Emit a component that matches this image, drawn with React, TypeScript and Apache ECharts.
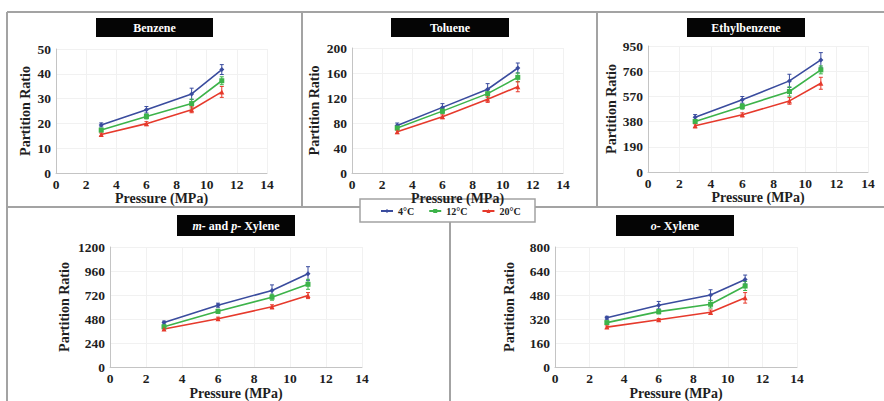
import React, { useEffect, useRef } from "react";
import * as echarts from "echarts";

// ---- data ----
const pressures = [3, 6, 9, 11];
const tempNames = ["4°C", "12°C", "20°C"];
const xTicks = [0, 2, 4, 6, 8, 10, 12, 14];

const panelTitles = ["Benzene", "Toluene", "Ethylbenzene", "{i|m-} and {i|p-} Xylene", "{i|o-} Xylene"];

const benzene4 = [19.4, 25.5, 31.9, 41.7];
const benzene12 = [17.3, 22.8, 28.0, 37.2];
const benzene20 = [15.5, 19.9, 25.5, 32.7];
const benzeneErr4 = [0.8, 1.3, 2.3, 2.0];
const benzeneErr12 = [0.7, 1.0, 1.8, 1.6];
const benzeneErr20 = [0.6, 0.8, 1.2, 2.2];

const toluene4 = [76, 105, 134, 168];
const toluene12 = [72, 99, 127, 153];
const toluene20 = [66, 90, 118, 138];
const tolueneErr4 = [4, 6, 9, 8];
const tolueneErr12 = [3, 4, 6, 7];
const tolueneErr20 = [3, 3, 5, 8];

const ethyl4 = [413, 544, 687, 845];
const ethyl12 = [381, 494, 607, 770];
const ethyl20 = [348, 431, 536, 669];
const ethylErr4 = [20, 25, 50, 55];
const ethylErr12 = [15, 20, 35, 30];
const ethylErr20 = [15, 15, 25, 45];

const mpXylene4 = [444, 618, 766, 933];
const mpXylene12 = [402, 557, 698, 827];
const mpXylene20 = [380, 483, 602, 714];
const mpXyleneErr4 = [15, 20, 55, 70];
const mpXyleneErr12 = [15, 20, 30, 50];
const mpXyleneErr20 = [12, 15, 20, 30];

const oXylene4 = [328, 412, 480, 583];
const oXylene12 = [296, 369, 418, 540];
const oXylene20 = [266, 315, 365, 461];
const oXyleneErr4 = [10, 25, 35, 30];
const oXyleneErr12 = [10, 15, 25, 30];
const oXyleneErr20 = [8, 8, 15, 35];

const yMax = [50, 200, 950, 1200, 800];
const yInterval = [10, 40, 190, 240, 160];

const panelValues = [
  [benzene4, benzene12, benzene20],
  [toluene4, toluene12, toluene20],
  [ethyl4, ethyl12, ethyl20],
  [mpXylene4, mpXylene12, mpXylene20],
  [oXylene4, oXylene12, oXylene20],
];
const panelErrors = [
  [benzeneErr4, benzeneErr12, benzeneErr20],
  [tolueneErr4, tolueneErr12, tolueneErr20],
  [ethylErr4, ethylErr12, ethylErr20],
  [mpXyleneErr4, mpXyleneErr12, mpXyleneErr20],
  [oXyleneErr4, oXyleneErr12, oXyleneErr20],
];

// ---- layout / style ----
const colors = ["#3a4c9e", "#3db34a", "#e63a2c"];
const symbols = ["diamond", "rect", "triangle"];
const FONT = "Liberation Serif";

const grids = [
  { left: 56, top: 49, width: 211, height: 124 },
  { left: 352, top: 48, width: 211, height: 125 },
  { left: 648, top: 46, width: 220, height: 126 },
  { left: 110, top: 247, width: 252, height: 125 },
  { left: 555, top: 247, width: 242, height: 125 },
];
const xNameGaps = [18.5, 18, 18.5, 19, 19];
const yNameGaps = [24, 31, 30, 39, 39];
const titleBoxes = [
  { x: 96, y: 18, w: 117, h: 19 },
  { x: 391, y: 18, w: 118, h: 19 },
  { x: 687, y: 18, w: 118, h: 19 },
  { x: 177, y: 215, w: 118, h: 21 },
  { x: 616, y: 215, w: 118, h: 21 },
];

export default function App() {
  const ref = useRef<HTMLDivElement>(null);

  useEffect(() => {
    if (!ref.current) return;
    const chart = echarts.init(ref.current, undefined, { renderer: "svg" });

    const axisLabelStyle = { fontFamily: FONT, fontWeight: "bold" as const, fontSize: 13.5, color: "#1e1e1e" };
    const nameStyle = { fontFamily: FONT, fontWeight: "bold" as const, fontSize: 14, color: "#1e1e1e" };

    const xAxes = grids.map((_, i) => ({
      type: "value",
      gridIndex: i,
      min: 0,
      max: 14,
      interval: 2,
      name: "Pressure (MPa)",
      nameLocation: "middle",
      nameGap: xNameGaps[i],
      nameMoveOverlap: false,
      nameTextStyle: nameStyle,
      axisLine: { show: true, lineStyle: { color: "#c4c4c4", width: 1 } },
      axisTick: { show: false },
      axisLabel: { ...axisLabelStyle, margin: 4, formatter: (v: number) => (xTicks.includes(v) ? String(v) : "") },
      splitLine: { show: true, lineStyle: { color: "#f1f1f1", width: 1 } },
    }));

    const yAxes = grids.map((_, i) => ({
      type: "value",
      gridIndex: i,
      min: 0,
      max: yMax[i],
      interval: yInterval[i],
      name: "Partition Ratio",
      nameLocation: "middle",
      nameGap: yNameGaps[i],
      nameMoveOverlap: false,
      nameTextStyle: nameStyle,
      axisLine: { show: true, lineStyle: { color: "#c4c4c4", width: 1 } },
      axisTick: { show: false },
      axisLabel: { ...axisLabelStyle, margin: 5, formatter: (v: number) => String(v) },
      splitLine: { show: true, lineStyle: { color: "#f1f1f1", width: 1 } },
    }));

    const series: any[] = [];
    panelValues.forEach((group, p) => {
      group.forEach((vals, t) => {
        series.push({
          type: "line",
          name: tempNames[t],
          xAxisIndex: p,
          yAxisIndex: p,
          data: pressures.map((x, k) => [x, vals[k]]),
          symbol: symbols[t],
          symbolSize: 5,
          showSymbol: true,
          lineStyle: { color: colors[t], width: 1.6 },
          itemStyle: { color: colors[t] },
          z: 3,
        });
        const errs = panelErrors[p][t];
        const color = colors[t];
        series.push({
          type: "custom",
          name: "err-" + p + "-" + t,
          xAxisIndex: p,
          yAxisIndex: p,
          encode: { x: 0, y: 1 },
          data: pressures.map((x, k) => [x, vals[k], errs[k]]),
          z: 2,
          renderItem: (_params: any, api: any) => {
            const x = api.value(0);
            const y = api.value(1);
            const e = api.value(2);
            const top = api.coord([x, y + e]);
            const bot = api.coord([x, y - e]);
            const cap = 2;
            const st = { stroke: color, lineWidth: 1 };
            return {
              type: "group",
              children: [
                { type: "line", shape: { x1: top[0], y1: top[1], x2: bot[0], y2: bot[1] }, style: st },
                { type: "line", shape: { x1: top[0] - cap, y1: top[1], x2: top[0] + cap, y2: top[1] }, style: st },
                { type: "line", shape: { x1: bot[0] - cap, y1: bot[1], x2: bot[0] + cap, y2: bot[1] }, style: st },
              ],
            };
          },
        });
      });
    });

    const frameStyle = { stroke: "#a3a3a3", lineWidth: 2 };
    const graphics: any[] = [
      { type: "line", shape: { x1: 7, y1: 12, x2: 884, y2: 12 }, style: frameStyle },
      { type: "line", shape: { x1: 7, y1: 12, x2: 7, y2: 401 }, style: frameStyle },
      { type: "line", shape: { x1: 302, y1: 12, x2: 302, y2: 207 }, style: frameStyle },
      { type: "line", shape: { x1: 597, y1: 12, x2: 597, y2: 207 }, style: frameStyle },
      { type: "line", shape: { x1: 7, y1: 207, x2: 884, y2: 207 }, style: frameStyle },
      { type: "line", shape: { x1: 450, y1: 207, x2: 450, y2: 401 }, style: frameStyle },
      { type: "rect", shape: { x: 360, y: 199, width: 175, height: 23 }, style: { fill: "#fff", stroke: "#a3a3a3", lineWidth: 1.5 } },
    ];
    titleBoxes.forEach((b, i) => {
      graphics.push({ type: "rect", shape: { x: b.x, y: b.y, width: b.w, height: b.h }, style: { fill: "#050505" } });
      graphics.push({
        type: "text",
        x: b.x + b.w / 2,
        y: b.y + b.h / 2,
        style: {
          text: panelTitles[i],
          fill: "#fff",
          fontFamily: FONT,
          fontWeight: "bold",
          fontSize: 12,
          align: "center",
          verticalAlign: "middle",
          rich: {
            i: { fontFamily: FONT, fontWeight: "bold", fontStyle: "italic", fontSize: 12, fill: "#fff" },
          },
        },
      });
    });

    chart.setOption({
      animation: false,
      backgroundColor: "#fff",
      grid: grids.map((g) => ({ ...g, containLabel: false })),
      xAxis: xAxes,
      yAxis: yAxes,
      legend: {
        data: tempNames,
        left: 380,
        top: 206,
        itemWidth: 12,
        itemHeight: 5,
        itemGap: 14,
        padding: 0,
        textStyle: { fontFamily: FONT, fontWeight: "bold", fontSize: 10, color: "#222" },
        z: 10,
      },
      graphic: { elements: graphics },
      series,
    });

    return () => chart.dispose();
  }, []);

  return (
    <div
      ref={ref}
      style={{ position: "fixed", left: 0, top: 0, width: 884, height: 401, background: "#fff" }}
    />
  );
}
